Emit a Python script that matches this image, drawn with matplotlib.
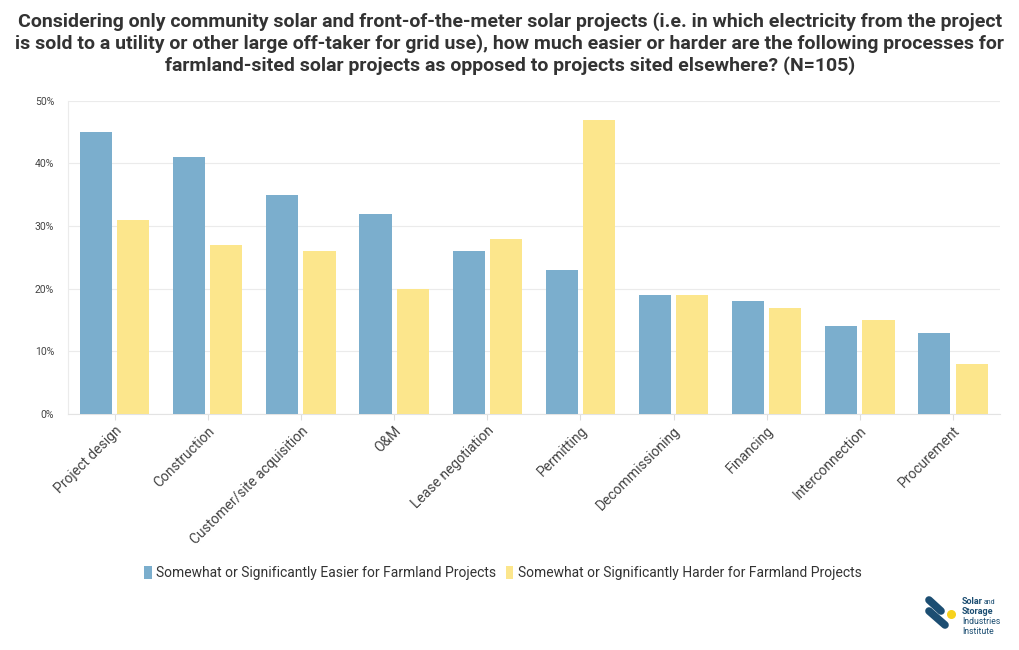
import numpy as np
import matplotlib.pyplot as plt

categories = ['Project design', 'Construction', 'Customer/site acquisition', 'O&M',
              'Lease negotiation', 'Permitting', 'Decommissioning', 'Financing',
              'Interconnection', 'Procurement']
easier = [45, 41, 35, 32, 26, 23, 19, 18, 14, 13]
harder = [31, 27, 26, 20, 28, 47, 19, 17, 15, 8]
series_names = ['Somewhat or Significantly Easier for Farmland Projects',
                'Somewhat or Significantly Harder for Farmland Projects']
yticks = [0, 10, 20, 30, 40, 50]

blue = '#7BAECD'
yellow = '#FCE68C'
body_font = ['Roboto', 'DejaVu Sans']

fig = plt.figure(figsize=(10.2, 6.5), dpi=100)
ax = fig.add_axes([0.0667, 0.363, 0.9133, 0.482])

x = np.arange(len(categories))
w = 0.345
ax.bar(x - 0.2, easier, width=w, color=blue, label=series_names[0], zorder=3)
ax.bar(x + 0.2, harder, width=w, color=yellow, label=series_names[1], zorder=3)

ax.set_xlim(-0.5, len(categories) - 0.5)
ax.set_ylim(0, 50)
ax.set_yticks(yticks)
ax.set_yticklabels([f'{v}%' for v in yticks], family=body_font, fontsize=7.5, color='#444444')
ax.set_xticks(x)
ax.set_xticklabels(categories, rotation=45, ha='right', rotation_mode='anchor',
                   family=body_font, fontsize=10, color='#444444')
ax.tick_params(axis='y', length=0, pad=10)
ax.tick_params(axis='x', length=4, color='#dddddd', pad=3)
ax.grid(axis='y', color='#ebebeb', linewidth=0.8, zorder=0)
for s in ['top', 'right']:
    ax.spines[s].set_visible(False)
ax.spines['left'].set_color('#ebebeb')
ax.spines['bottom'].set_color('#e3e3e3')

fig.text(0.5, 0.982, 'Considering only community solar and front-of-the-meter solar projects (i.e. in which electricity from the project\n'
         'is sold to a utility or other large off-taker for grid use), how much easier or harder are the following processes for\n'
         'farmland-sited solar projects as opposed to projects sited elsewhere? (N=105)',
         ha='center', va='top', fontsize=14, fontweight='bold', color='#333333',
         family=body_font, linespacing=1.25)

leg = fig.legend(loc='center', bbox_to_anchor=(0.493, 0.118), ncol=2, frameon=False,
                 handlelength=0.55, handleheight=1.1, handletextpad=0.3, columnspacing=0.7,
                 prop={'family': body_font, 'size': 10})
for t in leg.get_texts():
    t.set_color('#333333')

# logo, drawn in pixel coordinates
lax = fig.add_axes([915 / 1020, 5 / 650, 100 / 1020, 55 / 650])
lax.set_xlim(915, 1015)
lax.set_ylim(645, 590)
lax.axis('off')
lax.plot([929, 941], [600, 611], color='#1c4e72', lw=5.5, solid_capstyle='round')
lax.plot([929, 945], [611, 625], color='#1c4e72', lw=5.5, solid_capstyle='round')
lax.scatter([951], [614], s=30, color='#f7d21d', zorder=3)
lax.text(962, 601, 'Solar', fontsize=6.5, fontweight='bold', color='#1c4e72', family=body_font, va='center')
lax.text(984, 602, 'and', fontsize=5, color='#1c4e72', family=body_font, va='center')
lax.text(962, 611, 'Storage', fontsize=6.5, fontweight='bold', color='#1c4e72', family=body_font, va='center')
lax.text(962, 621, 'Industries', fontsize=6.2, color='#1c4e72', family=body_font, va='center')
lax.text(962, 631, 'Institute', fontsize=6.2, color='#1c4e72', family=body_font, va='center')

fig.savefig('out.png', dpi=100, facecolor='white')
